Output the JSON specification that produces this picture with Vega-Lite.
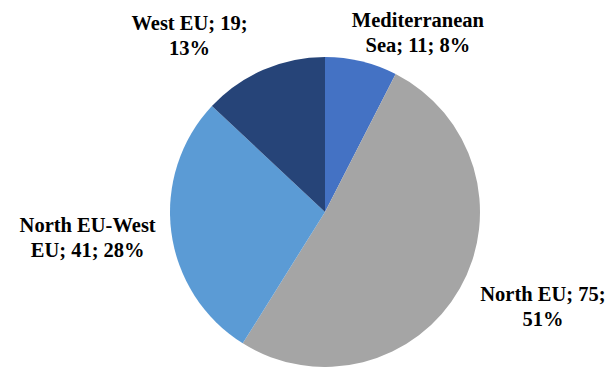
{
  "$schema": "https://vega.github.io/schema/vega-lite/v6.json",
  "autosize": {"type": "none"},
  "width": 562,
  "height": 310,
  "padding": {"left": 44, "top": 57, "right": 0, "bottom": 0},
  "background": "white",
  "view": {"stroke": null},
  "data": {"values": [
    {"region": "Mediterranean Sea", "value": 11, "k": 1, "label": ["Mediterranean", "Sea; 11; 8%"]},
    {"region": "North EU", "value": 75, "k": 2, "label": ["North EU; 75;", "51%"]},
    {"region": "North EU-West EU", "value": 41, "k": 3, "label": ["North EU-West", "EU; 41; 28%"]},
    {"region": "West EU", "value": 19, "k": 4, "label": ["West EU; 19;", "13%"]}
  ]},
  "encoding": {
    "theta": {"field": "value", "type": "quantitative", "stack": true},
    "order": {"field": "k", "type": "quantitative"}
  },
  "layer": [
    {
      "mark": {"type": "arc"},
      "encoding": {
        "color": {"field": "region", "type": "nominal", "legend": null,
          "scale": {"domain": ["Mediterranean Sea", "North EU", "North EU-West EU", "West EU"],
                    "range": ["#4472C4", "#A5A5A5", "#5B9BD5", "#264478"]}}
      }
    },
    {
      "mark": {"type": "text", "font": "'Liberation Serif', 'Times New Roman', serif", "fontWeight": "bold", "fontSize": 20.5, "lineHeight": 25, "align": "center", "baseline": "middle", "color": "black", "radius": 200, "dx": 46, "dy": 3},
      "encoding": {"text": {"condition": {"test": "datum.region === 'Mediterranean Sea'", "field": "label"}, "value": ""}}
    },
    {
      "mark": {"type": "text", "font": "'Liberation Serif', 'Times New Roman', serif", "fontWeight": "bold", "fontSize": 20.5, "lineHeight": 25, "align": "center", "baseline": "middle", "color": "black", "radius": 200, "dx": 44, "dy": -16},
      "encoding": {"text": {"condition": {"test": "datum.region === 'North EU'", "field": "label"}, "value": ""}}
    },
    {
      "mark": {"type": "text", "font": "'Liberation Serif', 'Times New Roman', serif", "fontWeight": "bold", "fontSize": 20.5, "lineHeight": 25, "align": "center", "baseline": "middle", "color": "black", "radius": 200, "dx": -39, "dy": -12},
      "encoding": {"text": {"condition": {"test": "datum.region === 'North EU-West EU'", "field": "label"}, "value": ""}}
    },
    {
      "mark": {"type": "text", "font": "'Liberation Serif', 'Times New Roman', serif", "fontWeight": "bold", "fontSize": 20.5, "lineHeight": 25, "align": "center", "baseline": "middle", "color": "black", "radius": 200, "dx": -56, "dy": -4},
      "encoding": {"text": {"condition": {"test": "datum.region === 'West EU'", "field": "label"}, "value": ""}}
    }
  ]
}
